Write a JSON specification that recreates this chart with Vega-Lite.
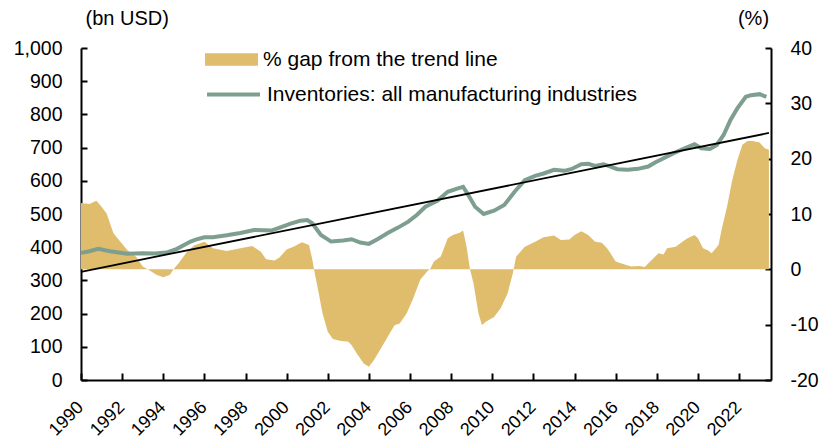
{
  "$schema": "https://vega.github.io/schema/vega-lite/v6.json",
  "width": 690,
  "height": 332,
  "autosize": {"type": "none"},
  "padding": {"left": 81, "top": 48, "right": 52, "bottom": 59},
  "config": {
    "view": {"stroke": null},
    "font": "Liberation Sans",
    "axis": {
      "grid": false,
      "domainColor": "black",
      "domainWidth": 2,
      "tickColor": "black",
      "tickWidth": 2,
      "labelFontSize": 19.5,
      "labelColor": "black",
      "titleFontSize": 20,
      "titleColor": "black",
      "titleFontWeight": "normal",
      "labelFont": "Liberation Sans",
      "titleFont": "Liberation Sans"
    },
    "legend": {
      "labelFont": "Liberation Sans",
      "labelFontSize": 21,
      "labelColor": "black",
      "labelLimit": 0,
      "padding": 0,
      "offset": 0
    }
  },
  "datasets": {
    "gap": [
      {"date": "1990-01-01", "gap": 12.0},
      {"date": "1990-06-01", "gap": 11.8},
      {"date": "1990-10-01", "gap": 12.4},
      {"date": "1991-01-01", "gap": 11.3},
      {"date": "1991-04-01", "gap": 10.1},
      {"date": "1991-06-01", "gap": 8.3},
      {"date": "1991-08-01", "gap": 6.5},
      {"date": "1991-12-01", "gap": 5.0},
      {"date": "1992-04-01", "gap": 3.5},
      {"date": "1992-09-01", "gap": 2.3},
      {"date": "1993-01-01", "gap": 0.5},
      {"date": "1993-04-01", "gap": 0.0},
      {"date": "1993-09-01", "gap": -1.0},
      {"date": "1994-01-01", "gap": -1.45},
      {"date": "1994-05-01", "gap": -1.0},
      {"date": "1994-07-01", "gap": 0.0},
      {"date": "1994-10-01", "gap": 1.1},
      {"date": "1995-03-01", "gap": 3.2},
      {"date": "1995-07-01", "gap": 4.3},
      {"date": "1996-01-01", "gap": 5.0},
      {"date": "1996-06-01", "gap": 3.8},
      {"date": "1997-02-01", "gap": 3.3},
      {"date": "1997-10-01", "gap": 3.8},
      {"date": "1998-05-01", "gap": 4.2},
      {"date": "1998-10-01", "gap": 3.2},
      {"date": "1999-01-01", "gap": 1.8},
      {"date": "1999-06-01", "gap": 1.6},
      {"date": "1999-09-01", "gap": 2.2},
      {"date": "2000-01-01", "gap": 3.6},
      {"date": "2000-05-01", "gap": 4.1},
      {"date": "2000-10-01", "gap": 4.9},
      {"date": "2001-02-01", "gap": 4.4},
      {"date": "2001-04-01", "gap": 1.8},
      {"date": "2001-05-01", "gap": 0.0},
      {"date": "2001-07-01", "gap": -3.1},
      {"date": "2001-10-01", "gap": -8.0},
      {"date": "2002-01-01", "gap": -11.3},
      {"date": "2002-04-01", "gap": -12.6},
      {"date": "2002-08-01", "gap": -12.9},
      {"date": "2003-01-01", "gap": -13.1},
      {"date": "2003-03-01", "gap": -13.7},
      {"date": "2003-06-01", "gap": -15.2},
      {"date": "2003-10-01", "gap": -17.0},
      {"date": "2004-01-01", "gap": -17.6},
      {"date": "2004-04-01", "gap": -16.4},
      {"date": "2004-08-01", "gap": -14.3},
      {"date": "2004-12-01", "gap": -12.2},
      {"date": "2005-04-01", "gap": -10.1},
      {"date": "2005-07-01", "gap": -9.8},
      {"date": "2005-11-01", "gap": -8.0},
      {"date": "2006-03-01", "gap": -5.2},
      {"date": "2006-07-01", "gap": -1.9},
      {"date": "2006-11-01", "gap": -0.4},
      {"date": "2007-01-01", "gap": 0.2},
      {"date": "2007-03-01", "gap": 1.4},
      {"date": "2007-07-01", "gap": 2.3},
      {"date": "2007-11-01", "gap": 5.6},
      {"date": "2008-02-01", "gap": 6.2},
      {"date": "2008-06-01", "gap": 6.6},
      {"date": "2008-08-01", "gap": 7.0},
      {"date": "2008-10-01", "gap": 4.1},
      {"date": "2008-12-01", "gap": 0.0},
      {"date": "2009-02-01", "gap": -2.5},
      {"date": "2009-05-01", "gap": -8.0},
      {"date": "2009-07-01", "gap": -10.1},
      {"date": "2009-09-01", "gap": -9.5},
      {"date": "2010-02-01", "gap": -8.6},
      {"date": "2010-06-01", "gap": -7.0},
      {"date": "2010-10-01", "gap": -4.3},
      {"date": "2011-01-01", "gap": -0.7},
      {"date": "2011-03-01", "gap": 2.3},
      {"date": "2011-08-01", "gap": 4.1},
      {"date": "2012-02-01", "gap": 5.0},
      {"date": "2012-07-01", "gap": 5.8},
      {"date": "2013-01-01", "gap": 6.1},
      {"date": "2013-05-01", "gap": 5.3},
      {"date": "2013-10-01", "gap": 5.4},
      {"date": "2014-01-01", "gap": 6.2},
      {"date": "2014-05-01", "gap": 6.9},
      {"date": "2014-09-01", "gap": 6.2},
      {"date": "2015-01-01", "gap": 5.0},
      {"date": "2015-05-01", "gap": 4.8},
      {"date": "2015-08-01", "gap": 3.8},
      {"date": "2015-10-01", "gap": 2.9},
      {"date": "2016-01-01", "gap": 1.4},
      {"date": "2016-05-01", "gap": 1.0},
      {"date": "2016-10-01", "gap": 0.5},
      {"date": "2017-03-01", "gap": 0.6},
      {"date": "2017-06-01", "gap": 0.4},
      {"date": "2017-10-01", "gap": 1.7},
      {"date": "2018-02-01", "gap": 2.9},
      {"date": "2018-05-01", "gap": 2.7},
      {"date": "2018-07-01", "gap": 3.8},
      {"date": "2018-12-01", "gap": 4.1},
      {"date": "2019-04-01", "gap": 5.0},
      {"date": "2019-07-01", "gap": 5.6},
      {"date": "2019-11-01", "gap": 6.2},
      {"date": "2020-01-01", "gap": 5.6},
      {"date": "2020-04-01", "gap": 3.8},
      {"date": "2020-07-01", "gap": 3.4},
      {"date": "2020-09-01", "gap": 2.9},
      {"date": "2021-01-01", "gap": 4.4},
      {"date": "2021-03-01", "gap": 7.4},
      {"date": "2021-06-01", "gap": 11.3},
      {"date": "2021-09-01", "gap": 16.1},
      {"date": "2021-12-01", "gap": 19.7},
      {"date": "2022-03-01", "gap": 22.5},
      {"date": "2022-06-01", "gap": 23.2},
      {"date": "2022-09-01", "gap": 23.2},
      {"date": "2023-01-01", "gap": 22.9},
      {"date": "2023-04-01", "gap": 21.9},
      {"date": "2023-06-15", "gap": 21.6}
    ],
    "inv": [
      {"date": "1990-01-01", "value": 383},
      {"date": "1990-06-01", "value": 388},
      {"date": "1990-11-01", "value": 395},
      {"date": "1991-06-01", "value": 388},
      {"date": "1992-04-01", "value": 380},
      {"date": "1993-01-01", "value": 382},
      {"date": "1993-08-01", "value": 381},
      {"date": "1994-03-01", "value": 384},
      {"date": "1994-09-01", "value": 395},
      {"date": "1995-05-01", "value": 417},
      {"date": "1995-08-01", "value": 423},
      {"date": "1996-01-01", "value": 430},
      {"date": "1996-06-01", "value": 430},
      {"date": "1997-02-01", "value": 436},
      {"date": "1997-10-01", "value": 443},
      {"date": "1998-06-01", "value": 452},
      {"date": "1998-12-01", "value": 451},
      {"date": "1999-04-01", "value": 450},
      {"date": "1999-09-01", "value": 459},
      {"date": "2000-03-01", "value": 470},
      {"date": "2000-09-01", "value": 480},
      {"date": "2001-01-01", "value": 482},
      {"date": "2001-04-01", "value": 472},
      {"date": "2001-09-01", "value": 437},
      {"date": "2002-03-01", "value": 417},
      {"date": "2002-10-01", "value": 420},
      {"date": "2003-03-01", "value": 424},
      {"date": "2003-08-01", "value": 414},
      {"date": "2004-01-01", "value": 410},
      {"date": "2004-06-01", "value": 424},
      {"date": "2004-12-01", "value": 443},
      {"date": "2005-06-01", "value": 459},
      {"date": "2005-12-01", "value": 477},
      {"date": "2006-05-01", "value": 497},
      {"date": "2006-10-01", "value": 522},
      {"date": "2006-12-01", "value": 527},
      {"date": "2007-05-01", "value": 540},
      {"date": "2007-11-01", "value": 567},
      {"date": "2008-05-01", "value": 577},
      {"date": "2008-08-01", "value": 582},
      {"date": "2008-11-01", "value": 557},
      {"date": "2009-03-01", "value": 522},
      {"date": "2009-08-01", "value": 500},
      {"date": "2010-02-01", "value": 510},
      {"date": "2010-08-01", "value": 527},
      {"date": "2011-02-01", "value": 567},
      {"date": "2011-08-01", "value": 602},
      {"date": "2012-02-01", "value": 615},
      {"date": "2012-07-01", "value": 622},
      {"date": "2013-01-01", "value": 633},
      {"date": "2013-07-01", "value": 630},
      {"date": "2013-11-01", "value": 635},
      {"date": "2014-05-01", "value": 650},
      {"date": "2014-09-01", "value": 651},
      {"date": "2015-01-01", "value": 645},
      {"date": "2015-06-01", "value": 650},
      {"date": "2015-10-01", "value": 643},
      {"date": "2016-02-01", "value": 635},
      {"date": "2016-08-01", "value": 633},
      {"date": "2017-02-01", "value": 636},
      {"date": "2017-08-01", "value": 643},
      {"date": "2017-12-01", "value": 655},
      {"date": "2018-05-01", "value": 668},
      {"date": "2018-10-01", "value": 681},
      {"date": "2019-04-01", "value": 695},
      {"date": "2019-11-01", "value": 710},
      {"date": "2020-03-01", "value": 698},
      {"date": "2020-08-01", "value": 696},
      {"date": "2020-12-01", "value": 708},
      {"date": "2021-04-01", "value": 738},
      {"date": "2021-08-01", "value": 783},
      {"date": "2021-12-01", "value": 818},
      {"date": "2022-05-01", "value": 853},
      {"date": "2022-08-01", "value": 858},
      {"date": "2023-01-01", "value": 861},
      {"date": "2023-05-01", "value": 853}
    ],
    "trend": [
      {"date": "1990-01-01", "value": 326},
      {"date": "2023-06-15", "value": 744}
    ]
  },
  "encoding": {
    "x": {
      "field": "date",
      "type": "temporal",
      "scale": {"type": "utc", "domain": ["1990-01-01", "2023-07-22"]},
      "axis": {
        "title": null,
        "format": "%Y",
        "tickCount": {"interval": "year", "step": 2},
        "labelAngle": -45,
        "labelAlign": "right",
        "labelBaseline": "top",
        "labelFontSize": 18,
        "tickSize": -7,
        "labelPadding": 25,
        "labelOffset": -7,
        "labelFlush": false,
        "labelOverlap": false,
        "labelBound": false
      }
    }
  },
  "layer": [
    {
      "data": {"name": "gap"},
      "mark": {"type": "area", "interpolate": "linear"},
      "encoding": {
        "y": {
          "field": "gap",
          "type": "quantitative",
          "scale": {"domain": [-20, 40], "nice": false, "zero": false},
          "axis": {
            "orient": "right",
            "values": [-20, -10, 0, 10, 20, 30, 40],
            "labelExpr": "'' + datum.value",
            "tickSize": -6,
            "labelPadding": 25,
            "labelOverlap": false,
            "title": "(%)",
            "titleAngle": 0,
            "titleAlign": "center",
            "titleBaseline": "middle",
            "titleX": -18,
            "titleY": -30,
            "labelFlush": false
          }
        },
        "y2": {"datum": 0},
        "fill": {
          "datum": "% gap from the trend line",
          "scale": {"range": ["#DFBD6C"]},
          "legend": {
            "title": null,
            "orient": "none",
            "legendX": 124,
            "legendY": -15,
            "symbolType": "M-1,-0.24H1V0.24H-1Z",
            "symbolSize": 2809,
            "symbolStrokeWidth": 0,
            "symbolOpacity": 1,
            "labelOffset": 5
          }
        }
      }
    },
    {
      "encoding": {
        "y": {
          "field": "value",
          "type": "quantitative",
          "scale": {"domain": [0, 1000], "nice": false},
          "axis": {
            "orient": "left",
            "values": [0, 100, 200, 300, 400, 500, 600, 700, 800, 900, 1000],
            "format": ",d",
            "tickSize": -6,
            "labelPadding": 25,
            "labelOverlap": false,
            "title": "(bn USD)",
            "titleAngle": 0,
            "titleAlign": "left",
            "titleBaseline": "middle",
            "titleX": 4,
            "titleY": -30,
            "labelFlush": false
          }
        }
      },
      "layer": [
        {
          "data": {"name": "inv"},
          "mark": {"type": "line", "strokeWidth": 4},
          "encoding": {
            "stroke": {
              "datum": "Inventories: all manufacturing industries",
              "scale": {"range": ["#7E9F90"]},
              "legend": {
                "title": null,
                "orient": "none",
                "legendX": 124,
                "legendY": 18,
                "symbolType": "M-1,0H1",
                "symbolSize": 2809,
                "symbolStrokeWidth": 4,
                "labelOffset": 5
              }
            }
          }
        },
        {
          "data": {"name": "trend"},
          "mark": {"type": "line", "color": "black", "strokeWidth": 1.8}
        }
      ]
    }
  ],
  "resolve": {"scale": {"y": "independent"}}
}
